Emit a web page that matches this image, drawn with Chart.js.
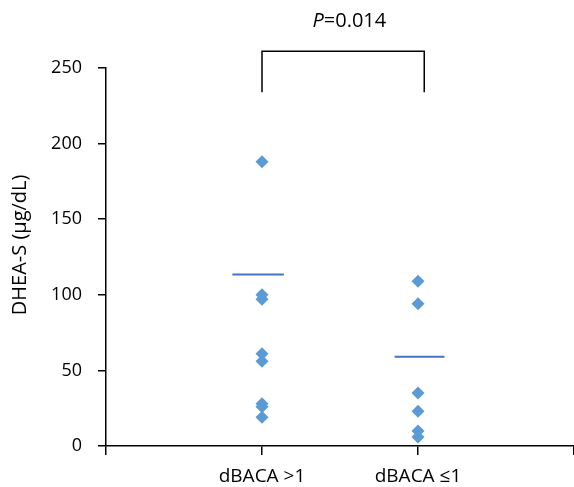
<!DOCTYPE html>
<html>
<head>
<meta charset="utf-8">
<script src="https://cdn.jsdelivr.net/npm/chart.js@4"></script>
<style>
  html, body { margin: 0; padding: 0; background: #fff; }
  #wrap { width: 574px; height: 487px; }
</style>
</head>
<body>
<div id="wrap"><canvas id="scatterChart"></canvas></div>
<script>
// data
const categories = ['dBACA >1', 'dBACA \u22641'];
const groupHigh = [188, 100, 97, 61, 56, 28, 26, 19];
const groupLow = [109, 94, 35, 23, 10, 6];
const groupLines = [113.5, 59];
const yTicks = [0, 50, 100, 150, 200, 250];
const yTitle = 'DHEA-S (\u03bcg/dL)';
const pText = '0.014';

const FONT = "'Open Sans', 'Noto Sans', sans-serif";
const axisColor = '#000';

// x positions: category i sits at x = i + 1 on a 0..3 axis
const toPoints = (vals, x) => vals.map(v => ({ x: x, y: v }));
const lineSpans = [[0.81, 1.14], [1.85, 2.17]];

const extraText = {
  id: 'extraText',
  afterDraw(chart) {
    const c = chart.ctx, xs = chart.scales.x, ys = chart.scales.y;
    c.save();
    c.fillStyle = '#000';
    c.textBaseline = 'middle';
    // P value above the bracket
    const x = xs.getPixelForValue(1.56), y = ys.getPixelForValue(281);
    c.font = 'italic 20px ' + FONT;
    const w1 = c.measureText('P').width;
    c.font = '20px ' + FONT;
    const w2 = c.measureText('=' + pText).width;
    let left = x - (w1 + w2) / 2;
    c.textAlign = 'left';
    c.font = 'italic 20px ' + FONT;
    c.fillText('P', left, y);
    c.font = '20px ' + FONT;
    c.fillText('=' + pText, left + w1, y);
    // y axis title (sits a little above the middle in the original)
    c.translate(20, ys.getPixelForValue(133));
    c.rotate(-Math.PI / 2);
    c.textAlign = 'center';
    c.fillText(yTitle, 0, 0);
    c.restore();
  }
};

ctx = document.getElementById('scatterChart').getContext('2d');

new Chart(ctx, {
  type: 'scatter',
  data: {
    datasets: [
      {
        data: toPoints(groupHigh, 1),
        pointStyle: 'rectRot',
        pointRadius: 6.5,
        backgroundColor: '#5B9BD5',
        borderWidth: 0
      },
      {
        data: toPoints(groupLow, 2),
        pointStyle: 'rectRot',
        pointRadius: 6.5,
        backgroundColor: '#5B9BD5',
        borderWidth: 0
      },
      ...groupLines.map((v, i) => ({
        type: 'line',
        data: [{ x: lineSpans[i][0], y: v }, { x: lineSpans[i][1], y: v }],
        borderColor: '#4472C4',
        borderWidth: 2,
        pointRadius: 0
      })),
      {
        // significance bracket
        type: 'line',
        data: [{ x: 1, y: 234 }, { x: 1, y: 261 }, { x: 2.04, y: 261 }, { x: 2.04, y: 234 }],
        borderColor: '#000',
        borderWidth: 1.5,
        pointRadius: 0,
        clip: false
      }
    ]
  },
  options: {
    responsive: true,
    maintainAspectRatio: false,
    animation: false,
    layout: { autoPadding: false, padding: { top: 68, right: 0, left: 0, bottom: 0 } },
    plugins: {
      legend: { display: false },
      tooltip: { enabled: false }
    },
    scales: {
      x: {
        type: 'linear',
        min: 0,
        max: 3,
        afterBuildTicks: s => { s.ticks = [0, 1, 2, 3].map(v => ({ value: v })); },
        afterFit: s => { s.height = 41; s.paddingLeft = 0; s.paddingRight = 0; },
        border: { color: axisColor, width: 1.5 },
        grid: { drawOnChartArea: false, color: axisColor, tickLength: 9, lineWidth: 1.5 },
        ticks: {
          color: '#000',
          font: { family: FONT, size: 19 },
          padding: 10,
          maxRotation: 0,
          callback: v => (v >= 1 && v <= categories.length) ? categories[v - 1] : ''
        }
      },
      y: {
        min: 0,
        max: 250,
        afterBuildTicks: s => { s.ticks = yTicks.map(v => ({ value: v })); },
        afterFit: s => { s.width = 106; },
        border: { color: axisColor, width: 1.5 },
        grid: { drawOnChartArea: false, color: axisColor, tickLength: 8, lineWidth: 1.5 },
        ticks: {
          color: '#000',
          font: { family: FONT, size: 18 },
          padding: 16
        }
      }
    }
  },
  plugins: [extraText]
});
</script>
</body>
</html>
